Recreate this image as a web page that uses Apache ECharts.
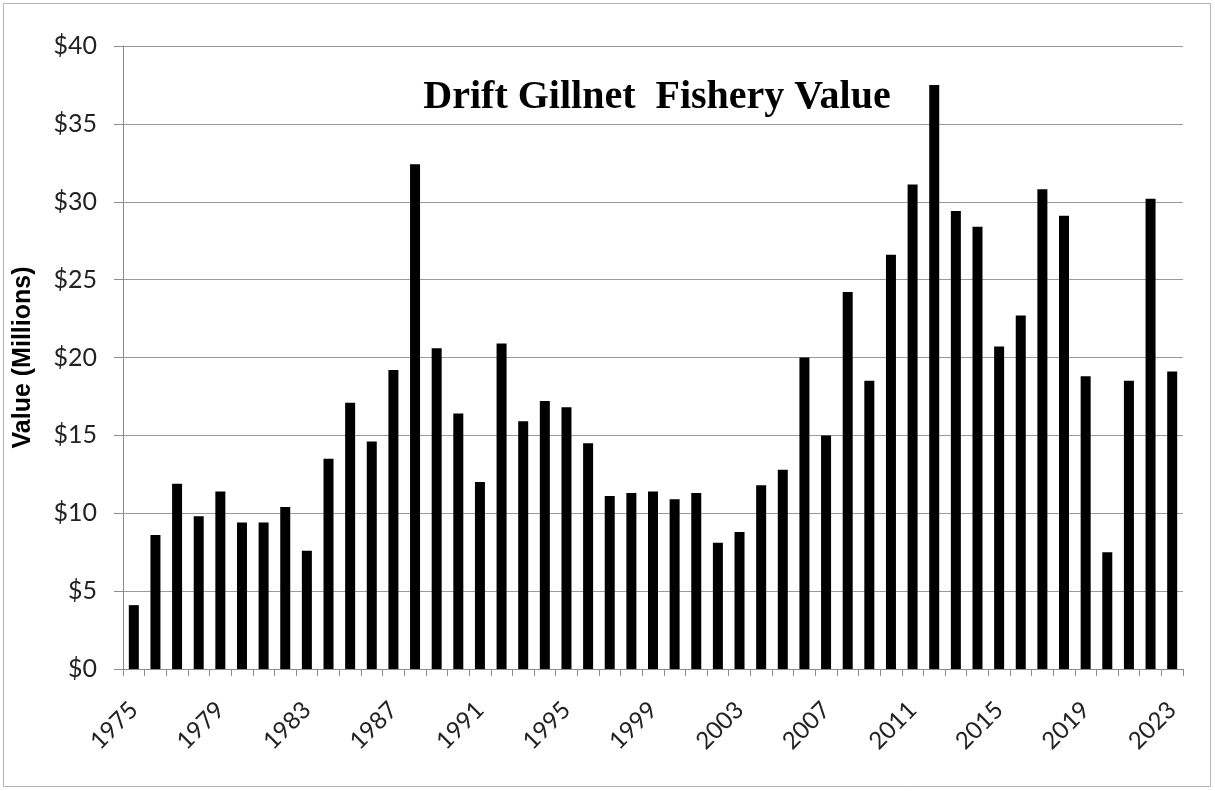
<!DOCTYPE html>
<html>
<head>
<meta charset="utf-8">
<script src="https://cdn.jsdelivr.net/npm/echarts@6/dist/echarts.min.js"></script>
<style>
  html, body { margin: 0; padding: 0; background: #fff; }
  #chart { width: 1215px; height: 791px; }
</style>
</head>
<body>
<div id="chart"></div>
<script>
// years 1975 .. 2023
var years = [];
for (var y = 1975; y <= 2023; y++) years.push(String(y));

// fishery value, millions of dollars
var values = [
    4.1, 8.6, 11.9, 9.8, 11.4, 9.4, 9.4, 10.4, 7.6, 13.5,
    17.1, 14.6, 19.2, 32.4, 20.6, 16.4, 12.0, 20.9, 15.9, 17.2,
    16.8, 14.5, 11.1, 11.3, 11.4, 10.9, 11.3, 8.1, 8.8, 11.8,
    12.8, 20.0, 15.0, 24.2, 18.5, 26.6, 31.1, 37.5, 29.4, 28.4,
    20.7, 22.7, 30.8, 29.1, 18.8, 7.5, 18.5, 30.2, 19.1
];

var myChart = echarts.init(document.getElementById('chart'));

var option = {
    backgroundColor: '#ffffff',
    animation: false,
    title: {
        text: 'Drift Gillnet  Fishery Value',
        left: 652,
        top: 73,
        textAlign: 'center',
        textStyle: {
            fontFamily: 'Liberation Serif',
            fontWeight: 'bold',
            fontSize: 40,
            color: '#000'
        }
    },
    graphic: [{
        type: 'rect',
        shape: { x: 3.5, y: 3.5, width: 1207, height: 783 },
        style: { fill: 'none', stroke: '#b4b4b4', lineWidth: 1 },
        silent: true
    }],
    grid: {
        left: 123,
        right: 32,
        top: 46,
        bottom: 122,
        outerBoundsMode: 'none'
    },
    xAxis: {
        type: 'category',
        data: years,
        boundaryGap: true,
        axisLine: { lineStyle: { color: '#8c8c8c', width: 1 } },
        axisTick: {
            show: true,
            interval: 0,
            alignWithLabel: false,
            length: 7,
            lineStyle: { color: '#8c8c8c' }
        },
        axisLabel: {
            interval: 3,
            rotate: 45,
            margin: 37,
            fontFamily: 'Lato',
            fontSize: 24,
            color: '#222'
        }
    },
    yAxis: {
        type: 'value',
        min: 0,
        max: 40,
        interval: 5,
        name: 'Value (Millions)',
        nameLocation: 'middle',
        nameGap: 87,
        nameTextStyle: {
            fontFamily: 'Liberation Sans',
            fontWeight: 'bold',
            fontSize: 25,
            color: '#000'
        },
        axisLine: { show: true, lineStyle: { color: '#8c8c8c', width: 1 } },
        axisTick: { show: true, inside: false, length: 9, lineStyle: { color: '#8c8c8c' } },
        splitLine: { lineStyle: { color: '#9a9a9a', width: 1 } },
        axisLabel: {
            margin: 26,
            fontFamily: 'Lato',
            fontSize: 25,
            color: '#222',
            formatter: function (v) { return '$' + v; }
        }
    },
    series: [{
        type: 'bar',
        data: values,
        barWidth: 10,
        itemStyle: { color: '#000000' }
    }]
};

myChart.setOption(option);
</script>
</body>
</html>
